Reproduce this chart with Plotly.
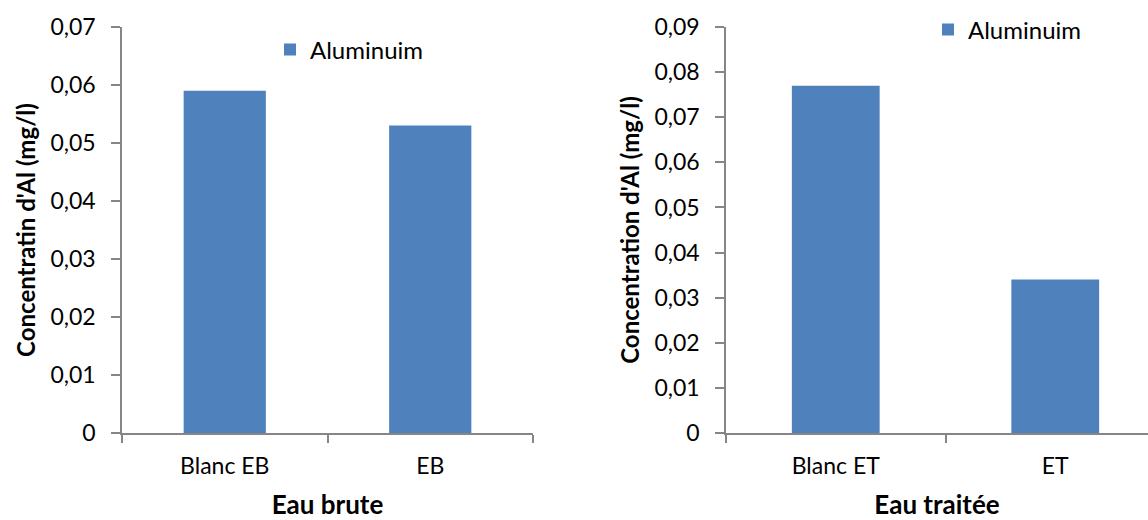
import plotly.graph_objects as go

# Data
cat_brute = ["Blanc EB", "EB"]
val_brute = [0.059, 0.053]
cat_traitee = ["Blanc ET", "ET"]
val_traitee = [0.077, 0.034]
series_name = "Aluminuim"
ytitle_left = "Concentratin d'Al (mg/l)"
ytitle_right = "Concentration d'Al (mg/l)"
xtitle_left = "Eau brute"
xtitle_right = "Eau traitée"

BAR = "#4F81BD"
AX = "#868686"
FONT = "Lato"

W, H = 1148, 520
MT, MB = 27, 87
PH = H - MT - MB


def ypix(p):
    """paper y for a pixel row measured from the top of the page"""
    return 1 - (p - MT) / PH


fig = go.Figure()
fig.add_trace(go.Bar(x=cat_brute, y=val_brute, name=series_name, marker=dict(color=BAR, line=dict(width=0)),
                     xaxis="x", yaxis="y", legend="legend", showlegend=True))
fig.add_trace(go.Bar(x=cat_traitee, y=val_traitee, name=series_name, marker=dict(color=BAR, line=dict(width=0)),
                     xaxis="x2", yaxis="y2", legend="legend2", showlegend=True))

common_x = dict(showline=True, linecolor=AX, linewidth=1.5, ticks="outside", ticklen=8, tickcolor=AX,
                tickwidth=1.5, tickson="boundaries", showgrid=False, zeroline=False, automargin=False,
                tickfont=dict(family=FONT, size=23, color="#000"), type="category", ticklabelstandoff=12)
common_y = dict(showline=True, linecolor=AX, linewidth=1.5, ticks="outside", ticklen=9, tickcolor=AX,
                tickwidth=1.5, showgrid=False, zeroline=False, tickformat=".2~f", automargin=False,
                tickfont=dict(family=FONT, size=23, color="#000"), ticklabelstandoff=11)

fig.update_layout(
    width=W, height=H,
    margin=dict(l=0, r=0, t=MT, b=MB),
    paper_bgcolor="white", plot_bgcolor="white",
    separators=", ",
    bargap=0.6,
    showlegend=True,
    font=dict(family=FONT, color="#000"),
    xaxis=dict(domain=[122 / W, 533 / W], range=[-0.5, 1.5], anchor="y",
               title=dict(text="<b>%s</b>" % xtitle_left, font=dict(family=FONT, size=26), standoff=26),
               **common_x),
    yaxis=dict(domain=[0, 1], range=[0, 0.07], dtick=0.01, anchor="x",
               title=dict(text="<b>%s</b>" % ytitle_left, font=dict(family=FONT, size=24), standoff=8),
               **common_y),
    xaxis2=dict(domain=[726 / W, 1], range=[-0.5, -0.5 + 422 / 219.5], anchor="y2",
                title=dict(text="<b>%s</b>" % xtitle_right, font=dict(family=FONT, size=26), standoff=26),
                **common_x),
    yaxis2=dict(domain=[0, 1], range=[0, 0.09], dtick=0.01, anchor="x2",
                title=dict(text="<b>%s</b>" % ytitle_right, font=dict(family=FONT, size=24), standoff=8),
                **common_y),
    legend=dict(x=270 / W, y=ypix(50), xanchor="left", yanchor="middle",
                bgcolor="rgba(0,0,0,0)", font=dict(family=FONT, size=24), itemwidth=30),
    legend2=dict(x=928 / W, y=ypix(30), xanchor="left", yanchor="middle",
                 bgcolor="rgba(0,0,0,0)", font=dict(family=FONT, size=24), itemwidth=30),
)

fig.write_html("out.html")
